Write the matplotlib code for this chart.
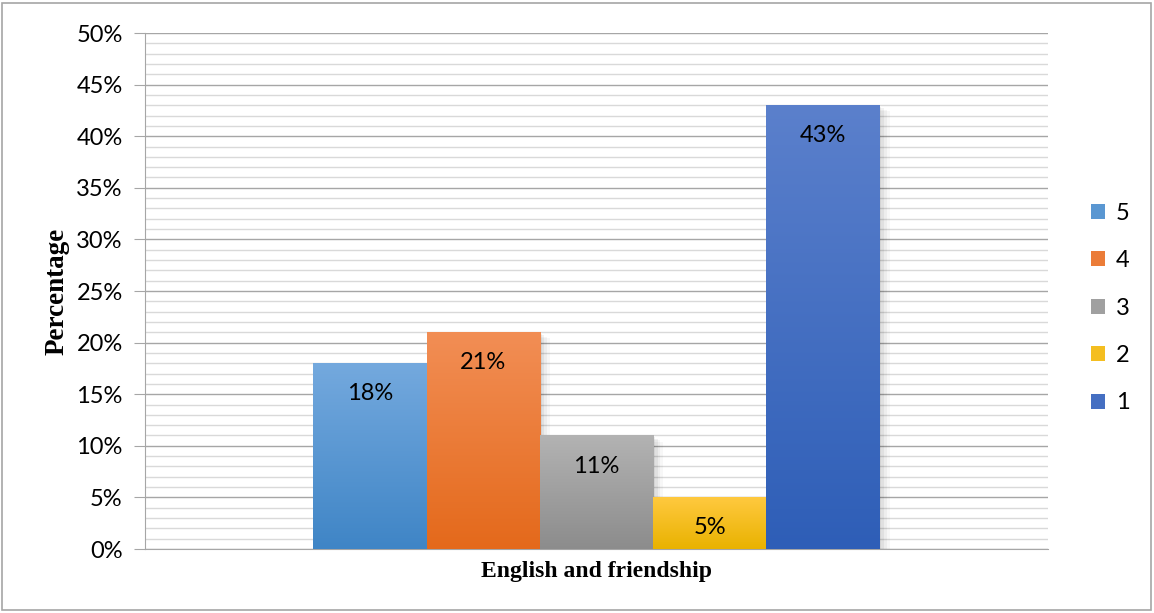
import numpy as np
import matplotlib.pyplot as plt
from matplotlib.colors import LinearSegmentedColormap, to_rgb
from matplotlib.patches import Rectangle

# survey answers for "English and friendship"
series = ['5', '4', '3', '2', '1']
values = [18, 21, 11, 5, 43]
# gradient colours per bar (top, bottom)
tops = ['#74a9de', '#f28e55', '#b3b3b3', '#ffc93f', '#5b80cc']
bottoms = ['#3f85c6', '#e4691b', '#8c8c8c', '#e9b200', '#2e5eb7']
category = 'English and friendship'
yticks = [0, 5, 10, 15, 20, 25, 30, 35, 40, 45, 50]

fig = plt.figure(figsize=(11.54, 6.13), dpi=100)
ax = fig.add_axes([145/1154, 1-549/613, (1048-145)/1154, (549-33)/613])

# frame round the whole figure
fig.patches.append(Rectangle((2/1154, 3/613), 1149/1154, 607/613, transform=fig.transFigure,
                             fill=False, edgecolor='#a6a6a6', linewidth=1.2))

n = len(values)
group = 0.627
w = group / n
x0 = 0.5 - group / 2

handles = []
for i, (lab, v, ct, cb) in enumerate(zip(series, values, tops, bottoms)):
    left = x0 + i * w
    # soft shadow to the right and below
    for k, a in enumerate([0.06, 0.05, 0.04, 0.03]):
        ax.add_patch(Rectangle((left + 0.001 * (k + 1), -0.15 * (k + 1)), w + 0.002 * (k + 1) - 0.001, v,
                               facecolor='black', alpha=a, edgecolor='none', zorder=2))
    bar = ax.bar(left, v, width=w, align='edge', color=cb, zorder=3, linewidth=0)[0]
    cmap = LinearSegmentedColormap.from_list('g%d' % i, [cb, ct])
    grad = np.linspace(0, 1, 256).reshape(-1, 1)
    im = ax.imshow(grad, cmap=cmap, extent=(left, left + w, 0, v), origin='lower',
                   aspect='auto', zorder=3.5, interpolation='bicubic')
    im.set_clip_path(bar)
    ax.annotate('%d%%' % v, (left + w / 2, v), xytext=(0, -22), textcoords='offset points',
                ha='center', va='center', fontsize=17, family='Lato', zorder=5)
    mid = tuple((np.array(to_rgb(ct)) + np.array(to_rgb(cb))) / 2)
    handles.append(Rectangle((0, 0), 1, 1, facecolor=mid, edgecolor='none', label=lab))

ax.set_aspect('auto')
ax.set_xlim(0, 1)
ax.set_ylim(0, 50)

ax.set_yticks(yticks)
ax.set_yticklabels(['%d%%' % t for t in yticks], family='Lato', fontsize=17)
ax.set_yticks(np.arange(0, 51, 1), minor=True)
ax.tick_params(axis='y', which='major', length=8, color='#a6a6a6', pad=8)
ax.tick_params(axis='y', which='minor', length=0)
ax.set_xticks([])
ax.grid(axis='y', which='major', color='#a6a6a6', linewidth=1.0, zorder=0)
ax.grid(axis='y', which='minor', color='#d9d9d9', linewidth=1.0, zorder=0)
ax.set_axisbelow(True)

for s in ['top', 'right']:
    ax.spines[s].set_visible(False)
ax.spines['left'].set_color('#a6a6a6')
ax.spines['bottom'].set_color('#a6a6a6')

ax.set_ylabel('Percentage', family='Liberation Serif', fontweight='bold', fontsize=19.5, labelpad=5)
ax.set_xlabel(category, family='Liberation Serif', fontweight='bold', fontsize=17, labelpad=9)

ax.legend(handles=handles, loc='center left', bbox_to_anchor=(1.037, 0.467), frameon=False,
          prop={'family': 'Lato', 'size': 17}, handlelength=0.6, handleheight=0.6,
          labelspacing=1.12, handletextpad=0.45, borderaxespad=0)

fig.savefig('out.png', dpi=100)
